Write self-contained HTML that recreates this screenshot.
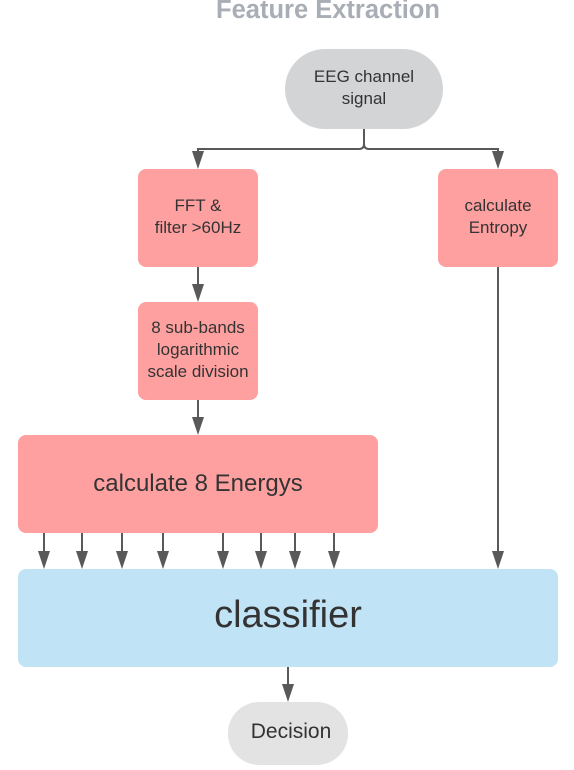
<!DOCTYPE html>
<html><head><meta charset="utf-8"><style>
html,body{margin:0;padding:0;background:#fff;}
svg{display:block;}
text{font-family:"Liberation Sans",Arial,sans-serif;fill:#333;}
</style></head><body>
<svg width="574" height="770" viewBox="0 0 574 770" xmlns="http://www.w3.org/2000/svg">
<text x="328" y="18" text-anchor="middle" font-size="25.5" font-weight="bold" style="fill:#a9adb5">Feature Extraction</text>

<rect x="285" y="49" width="158" height="80" rx="40" fill="#d3d4d6"/>
<text x="364" y="82" text-anchor="middle" font-size="17">EEG channel</text>
<text x="364" y="104" text-anchor="middle" font-size="17">signal</text>

<g stroke="#595959" stroke-width="2" fill="none">
<path d="M364 129 V144 Q364 149 359 149 H198 V158"/>
<path d="M364 144 Q364 149 369 149 H498 V158"/>
<path d="M198 267 V290"/>
<path d="M198 400 V423"/>
<path d="M498 267 V557"/>
<path d="M288 667 V690"/>
<path d="M44 533 V557 M82 533 V557 M122 533 V557 M163 533 V557 M223 533 V557 M261 533 V557 M295 533 V557 M334 533 V557"/>
</g>
<g fill="#595959">
<path d="M192 151 h12 l-6 18z"/>
<path d="M492 151 h12 l-6 18z"/>
<path d="M192 284 h12 l-6 18z"/>
<path d="M192 417 h12 l-6 18z"/>
<path d="M282 684 h12 l-6 18z"/>
<path d="M38 551 h12 l-6 18z M76 551 h12 l-6 18z M116 551 h12 l-6 18z M157 551 h12 l-6 18z M217 551 h12 l-6 18z M255 551 h12 l-6 18z M289 551 h12 l-6 18z M328 551 h12 l-6 18z M492 551 h12 l-6 18z"/>
</g>

<rect x="138" y="169" width="120" height="98" rx="8" fill="#ffa0a0"/>
<text x="198" y="211" text-anchor="middle" font-size="17">FFT &amp;</text>
<text x="198" y="233" text-anchor="middle" font-size="17">filter &gt;60Hz</text>

<rect x="438" y="169" width="120" height="98" rx="8" fill="#ffa0a0"/>
<text x="498" y="211" text-anchor="middle" font-size="17">calculate</text>
<text x="498" y="233" text-anchor="middle" font-size="17">Entropy</text>

<rect x="138" y="302" width="120" height="98" rx="8" fill="#ffa0a0"/>
<text x="198" y="333" text-anchor="middle" font-size="17">8 sub-bands</text>
<text x="198" y="355" text-anchor="middle" font-size="17">logarithmic</text>
<text x="198" y="377" text-anchor="middle" font-size="17">scale division</text>

<rect x="18" y="435" width="360" height="98" rx="8" fill="#ffa0a0"/>
<text x="198" y="491" text-anchor="middle" font-size="24">calculate 8 Energys</text>

<rect x="18" y="569" width="540" height="98" rx="8" fill="#c1e3f6"/>
<text x="288" y="627" text-anchor="middle" font-size="38">classifier</text>

<rect x="228" y="702" width="120" height="63" rx="31" fill="#e3e3e3"/>
<text x="291" y="738" text-anchor="middle" font-size="21">Decision</text>
</svg>
</body></html>
